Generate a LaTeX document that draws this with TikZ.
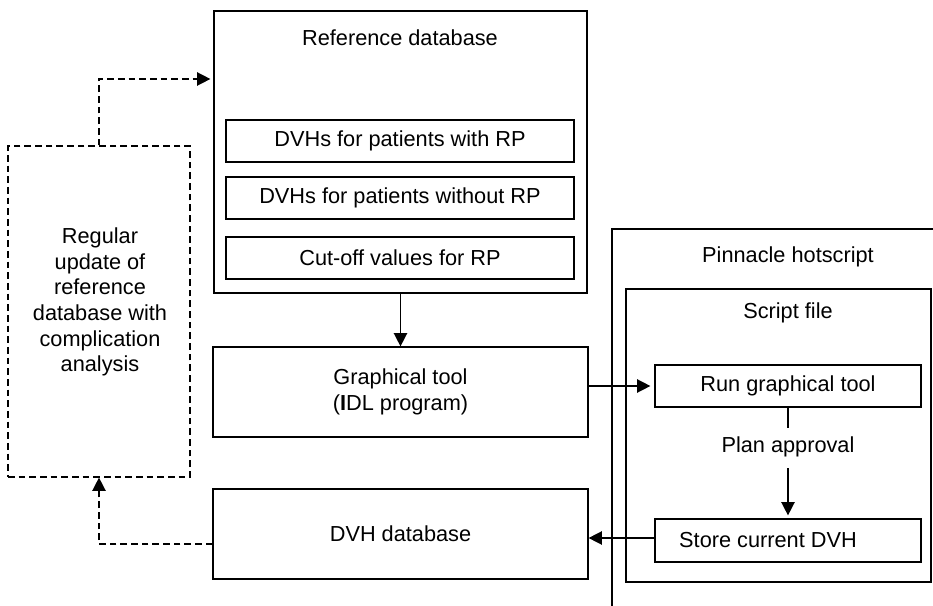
\documentclass[tikz,border=0pt]{standalone}
\usepackage{fontspec}
\setmainfont{Liberation Sans}
\usetikzlibrary{arrows.meta}
\begin{document}
\begin{tikzpicture}[x=0.75pt,y=-0.75pt,
  font=\fontsize{16.3}{19.3}\selectfont,
  every path/.style={line width=0.9pt},
  boxnode/.style={draw, inner sep=0pt, align=center},
  txt/.style={inner sep=0pt, align=center},
  tip/.style={line width=1.1pt, -{Triangle[length=10pt,width=10pt]}},
  dashline/.style={dash pattern=on 5pt off 3pt}]
\useasboundingbox (0,0) rectangle (933,606);

% reference database
\node[boxnode, minimum width=373*0.75pt, minimum height=282*0.75pt] (refdb) at (400.5,152) {};
\node[txt] (reftxt) at (400,38) {Reference database};
\node[boxnode, minimum width=348*0.75pt, minimum height=42*0.75pt] (with) at (400,141) {DVHs for patients with RP};
\node[boxnode, minimum width=348*0.75pt, minimum height=42*0.75pt] (without) at (400,198) {DVHs for patients without RP};
\node[boxnode, minimum width=348*0.75pt, minimum height=42*0.75pt] (cutoff) at (400,258) {Cut-off values for RP};

% graphical tool and DVH database
\node[boxnode, minimum width=375*0.75pt, minimum height=90*0.75pt] (graph) at (400.5,392) {Graphical tool\\(\textbf{I}DL program)};
\node[boxnode, minimum width=375*0.75pt, minimum height=90*0.75pt] (dvhdb) at (400.5,534) {DVH database};

% dashed update box
\node[boxnode, dashline, minimum width=182*0.75pt, minimum height=331*0.75pt] (upd) at (99,311.5) {};
\node[txt] (updtxt) at (100,302) {Regular\\update of\\reference\\database with\\complication\\analysis};

% Pinnacle hotscript frame
\coordinate (pbl) at (612,606);
\coordinate (ptl) at (612,229);
\coordinate (ptr) at (933,229);
\draw (pbl) -- (ptl) -- (ptr);
\node[txt] (pinn) at (788,257) {Pinnacle hotscript};

% script file
\node[boxnode, minimum width=305*0.75pt, minimum height=293*0.75pt] (script) at (778.5,435.5) {};
\node[txt] (scripttxt) at (788,313) {Script file};
\node[boxnode, minimum width=266*0.75pt, minimum height=42*0.75pt] (run) at (788,386) {Run graphical tool};
\node[txt] (plan) at (788,447) {Plan approval};
\node[boxnode, minimum width=266*0.75pt, minimum height=43*0.75pt] (store) at (788,540.5) {};
\node[txt] (storetxt) at (768,540) {Store current DVH};

% connectors
\draw[tip] (refdb.south) -- (graph.north);
\draw[tip, shorten >=4*0.75pt] (graph.east |- run.west) -- (run.west);
\draw[line width=1.1pt] (run.south) -- ([yshift=6pt]plan.north);
\draw[tip, shorten >=3*0.75pt] ([yshift=-8pt]plan.south) -- (store.north);
\coordinate (sa) at (655,538);
\draw[tip] (sa) -- (dvhdb.east |- sa);

% dashed connectors
\coordinate (c1) at (99,79);
\coordinate (c2) at (99,544);
\draw[tip, dashline, shorten >=3*0.75pt] (upd.north) -- (c1) -- (refdb.west |- c1);
\draw[tip, dashline] (dvhdb.west |- c2) -- (c2) -- (upd.south);
\end{tikzpicture}
\end{document}
